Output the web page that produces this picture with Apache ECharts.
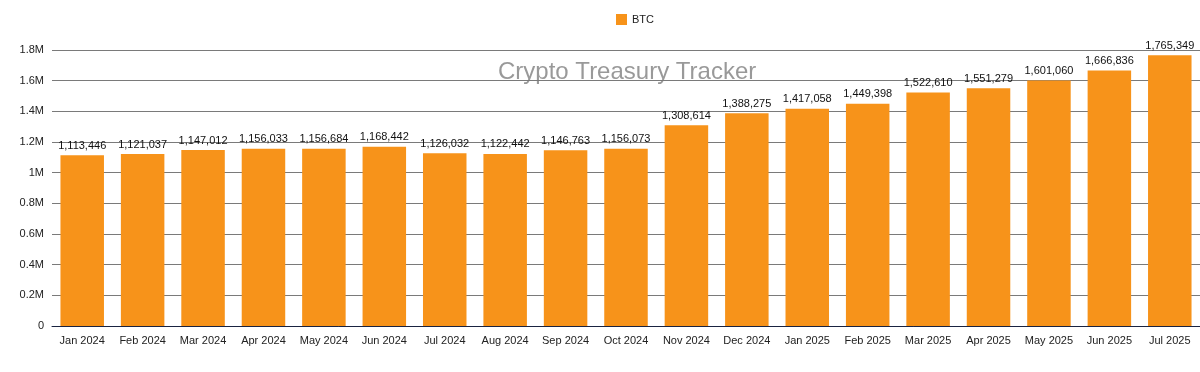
<!DOCTYPE html>
<html><head><meta charset="utf-8">
<script src="https://cdn.jsdelivr.net/npm/echarts@6/dist/echarts.min.js"></script>
<style>html,body{margin:0;padding:0;background:#fff}#c{width:1200px;height:372px}</style>
</head><body><div id="c"></div>
<script>
const categories = ["Jan 2024","Feb 2024","Mar 2024","Apr 2024","May 2024","Jun 2024","Jul 2024","Aug 2024","Sep 2024","Oct 2024","Nov 2024","Dec 2024","Jan 2025","Feb 2025","Mar 2025","Apr 2025","May 2025","Jun 2025","Jul 2025"];
const btcValues = [1113446,1121037,1147012,1156033,1156684,1168442,1126032,1122442,1146763,1156073,1308614,1388275,1417058,1449398,1522610,1551279,1601060,1666836,1765349];
const seriesName = "BTC";
const watermark = "Crypto Treasury Tracker";

const chart = echarts.init(document.getElementById('c'));
chart.setOption({
  animation: false,
  textStyle: {fontFamily: 'Liberation Sans, Arial, sans-serif'},
  legend: {
    data: [seriesName], top: 9, left: 611, itemWidth: 11, itemHeight: 11, itemGap: 8,
    icon: 'rect', textStyle: {fontSize: 11, color: '#222'}
  },
  graphic: [{
    type: 'text', left: 498, top: 60,
    style: {text: watermark, fontSize: 24, fill: 'rgba(110,110,110,0.7)', fontFamily: 'Liberation Sans, Arial, sans-serif'}
  }],
  grid: {left: 52, right: 0, top: 50, bottom: 46},
  xAxis: {
    type: 'category', data: categories,
    axisLine: {lineStyle: {color: '#1a2340', width: 1}},
    axisTick: {show: false},
    axisLabel: {fontSize: 11, color: '#222', margin: 9, interval: 0}
  },
  yAxis: {
    type: 'value', min: 0, max: 1800000, interval: 200000,
    axisLabel: {fontSize: 11, color: '#222', margin: 8,
      formatter: v => v === 0 ? '0' : parseFloat((v/1e6).toFixed(1)) + 'M'},
    splitLine: {lineStyle: {color: '#7a7a7a', width: 1}},
    axisLine: {show: false}, axisTick: {show: false}
  },
  series: [{
    name: seriesName, type: 'bar', data: btcValues, barWidth: '72%',
    itemStyle: {color: '#F7931A'},
    label: {show: true, position: 'top', fontSize: 11, color: '#111', distance: 4,
      formatter: p => p.value.toLocaleString('en-US')}
  }]
});
</script></body></html>
